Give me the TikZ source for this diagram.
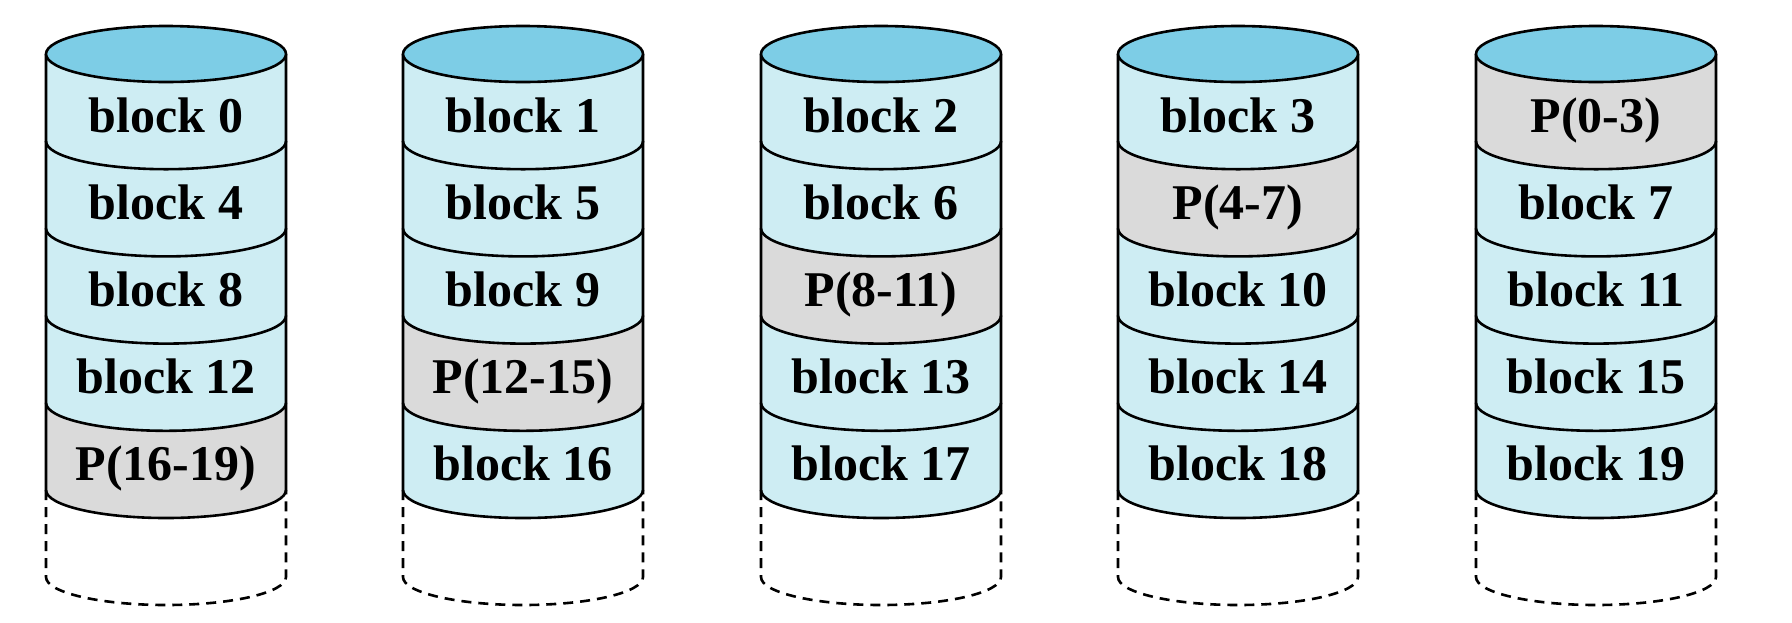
\documentclass[tikz,border=0pt]{standalone}
\usepackage{fontspec}
\setmainfont{Liberation Serif}
\definecolor{TopClr}{RGB}{125,205,230}
\definecolor{BandClr}{RGB}{206,237,243}
\definecolor{ParityClr}{RGB}{218,218,218}

\begin{document}
\begin{tikzpicture}[x=0.5pt,y=0.5pt,line width=1.3pt,
  blocktext/.style={anchor=base,inner sep=0pt,font=\bfseries\fontsize{25}{30}\selectfont},
  spare/.style={dash pattern=on 5pt off 3.5pt}]
\useasboundingbox (0,0) rectangle (1792,-622);
\def\rx{120}\def\ry{28}

\foreach \cx/\labels/\pr [count=\d] in {%
  166/{block 0,block 4,block 8,block 12,P(16-19)}/5,
  523/{block 1,block 5,block 9,P(12-15),block 16}/4,
  881/{block 2,block 6,P(8-11),block 13,block 17}/3,
  1238/{block 3,P(4-7),block 10,block 14,block 18}/2,
  1596/{P(0-3),block 7,block 11,block 15,block 19}/1}{
  % fill the bands of one disk
  \foreach \lbl [count=\i] in \labels {
    \pgfmathsetmacro\yt{-54-87.2*(\i-1)}
    \pgfmathsetmacro\yb{-54-87.2*\i}
    \ifnum\i=\pr \def\bandclr{ParityClr}\else\def\bandclr{BandClr}\fi
    \fill[\bandclr] (\cx-\rx,\yt) arc[start angle=180,end angle=360,x radius=\rx,y radius=\ry]
      -- (\cx+\rx,\yb) arc[start angle=360,end angle=180,x radius=\rx,y radius=\ry] -- cycle;
  }
  % outlines and labels
  \foreach \lbl [count=\i] in \labels {
    \pgfmathsetmacro\yt{-54-87.2*(\i-1)}
    \pgfmathsetmacro\yb{-54-87.2*\i}
    \draw (\cx-\rx,\yt) -- (\cx-\rx,\yb) arc[start angle=180,end angle=360,x radius=\rx,y radius=\ry]
      -- (\cx+\rx,\yt);
    \node[blocktext] (disk\d-\i) at (\cx,\yt-78) {\lbl};
  }
  % top of the disk
  \draw[fill=TopClr] (\cx,-54) ellipse[x radius=\rx,y radius=\ry];
  % empty space below
  \draw[spare] (\cx-\rx,-490) -- (\cx-\rx,-577) arc[start angle=180,end angle=360,x radius=\rx,y radius=\ry]
    -- (\cx+\rx,-490);
}
\end{tikzpicture}
\end{document}
